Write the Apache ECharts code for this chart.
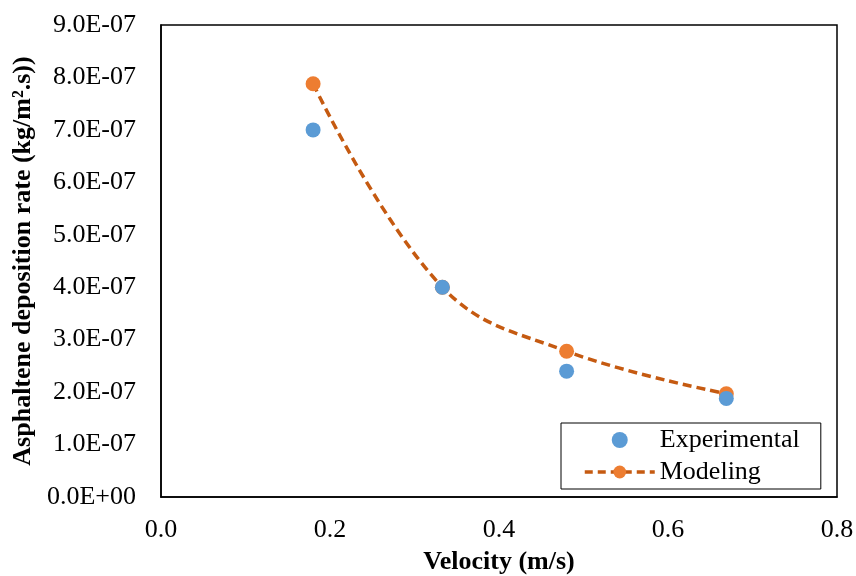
<!DOCTYPE html>
<html>
<head>
<meta charset="utf-8">
<script src="https://cdn.jsdelivr.net/npm/echarts@6/dist/echarts.min.js"></script>
<style>
  html, body { margin: 0; padding: 0; background: #fff; }
  #chart { width: 856px; height: 576px; }
</style>
</head>
<body>
<div id="chart"></div>
<script>
// velocity (m/s)
const velocity = [0.18, 0.333, 0.48, 0.669]
// deposition rate (kg/m2.s)
const experimental = [7.0e-7, 4.0e-7, 2.4e-7, 1.88e-7]
const modeling = [7.88e-7, 4.0e-7, 2.78e-7, 1.97e-7]
const seriesNames = ['Experimental', 'Modeling']

const font = '"Liberation Serif", "Times New Roman", serif'

function sciLabel(v) {
  if (Math.abs(v) < 1e-15) return '0.0E+00'
  const parts = v.toExponential(1).split('e')
  const exp = parseInt(parts[1], 10)
  const sign = exp < 0 ? '-' : '+'
  const abs = Math.abs(exp)
  return parts[0] + 'E' + sign + (abs < 10 ? '0' + abs : abs)
}

const chart = echarts.init(document.getElementById('chart'), null, { renderer: 'canvas' })

const option = {
  animation: false,
  backgroundColor: '#fff',
  textStyle: { fontFamily: font },
  grid: {
    left: 161,
    right: 19,
    top: 25,
    bottom: 79,
    outerBoundsMode: 'none',
    containLabel: false,
    show: true,
    borderColor: '#000',
    borderWidth: 1.5
  },
  legend: {
    data: [
      { name: 'Experimental' },
      { name: 'Modeling', lineStyle: { width: 3.5, type: [8, 5] } }
    ],
    orient: 'vertical',
    left: 561,
    top: 423,
    padding: [4, 21, 4, 22],
    itemWidth: 70,
    itemHeight: 16,
    itemGap: 6,
    borderColor: '#000',
    borderWidth: 1,
    backgroundColor: '#fff',
    textStyle: {
      fontFamily: font,
      fontSize: 26,
      lineHeight: 26,
      color: '#000'
    }
  },
  xAxis: {
    type: 'value',
    min: 0,
    max: 0.8,
    interval: 0.2,
    name: 'Velocity (m/s)',
    nameLocation: 'middle',
    nameGap: 52,
    nameTextStyle: {
      fontFamily: font,
      fontSize: 26,
      fontWeight: 'bold',
      color: '#000'
    },
    axisLine: { show: true, lineStyle: { color: '#000', width: 1.5 } },
    axisTick: { show: false },
    splitLine: { show: false },
    axisLabel: {
      margin: 20,
      fontFamily: font,
      fontSize: 26,
      color: '#000',
      formatter: v => v.toFixed(1)
    }
  },
  yAxis: {
    type: 'value',
    min: 0,
    max: 9e-7,
    interval: 1e-7,
    name: 'Asphaltene deposition rate (kg/m\u00B2.s))',
    nameLocation: 'middle',
    nameGap: 123,
    nameTextStyle: {
      fontFamily: font,
      fontSize: 26,
      fontWeight: 'bold',
      color: '#000'
    },
    axisLine: { show: true, lineStyle: { color: '#000', width: 1.5 } },
    axisTick: { show: false },
    splitLine: { show: false },
    axisLabel: {
      margin: 25,
      fontFamily: font,
      fontSize: 26,
      color: '#000',
      formatter: sciLabel
    }
  },
  series: [
    {
      name: 'Experimental',
      type: 'scatter',
      z: 4,
      symbol: 'circle',
      symbolSize: 15,
      itemStyle: { color: '#5B9BD5', opacity: 1 },
      data: velocity.map((x, i) => [x, experimental[i]])
    },
    {
      name: 'Modeling',
      type: 'line',
      z: 3,
      smooth: 0.4,
      symbol: 'circle',
      symbolSize: 15,
      showSymbol: true,
      lineStyle: { color: '#C55A11', width: 3.5, type: [9, 5] },
      itemStyle: { color: '#ED7D31', borderWidth: 0 },
      data: velocity.map((x, i) => [x, modeling[i]])
    }
  ]
}

chart.setOption(option)
</script>
</body>
</html>
